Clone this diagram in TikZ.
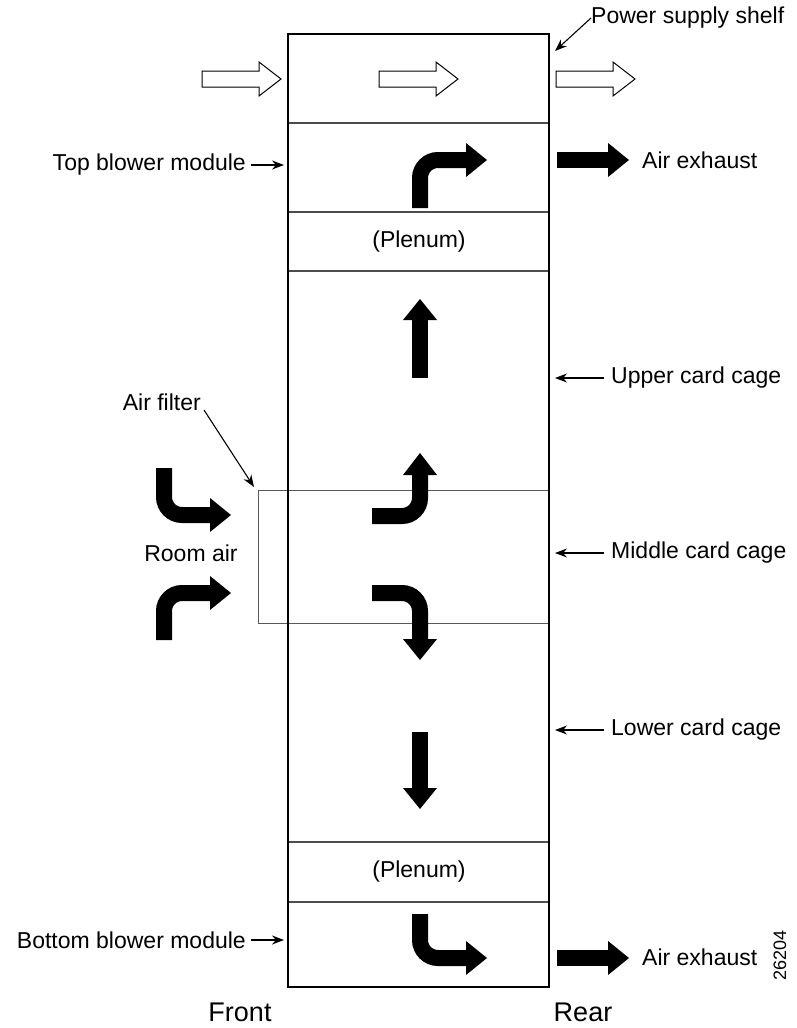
\documentclass[tikz,border=0pt]{standalone}
\usepackage{fontspec}
\setmainfont{Liberation Sans}
\usetikzlibrary{arrows.meta}
\begin{document}
\begin{tikzpicture}[x=1pt,y=-1pt,
  lbl/.style={inner sep=0pt, font=\fontsize{23}{27}\selectfont},
  big/.style={inner sep=0pt, font=\fontsize{27}{31}\selectfont},
  ptr/.style={line width=1.1pt, -{Stealth[length=12pt,width=9pt]}},
  divider/.style={line width=1.1pt, draw=black!70},
  filt/.style={line width=1pt, draw=black!65},
  rack/.style={line width=2pt, draw=black},
  flow/.style={line width=16pt, draw=black, rounded corners=18pt},
  hollow/.style={line width=1pt, draw=black, fill=white, line join=miter}]
\useasboundingbox (0,0) rectangle (796,1028);

% dividers
\draw[divider] (288,123) -- (549,123);
\draw[divider] (288,212) -- (549,212);
\draw[divider] (288,271) -- (549,271);
\draw[divider] (288,842) -- (549,842);
\draw[divider] (288,902) -- (549,902);
% air filter
\draw[filt] (549,490) -- (258,490) -- (258,623) -- (549,623);
% rack
\draw[rack] (288,34) rectangle (549,987);

% hollow arrows
\foreach \x in {202,379,556}{
  \draw[hollow] (\x,71) -- (\x+57,71) -- (\x+57,62) -- (\x+79,79) -- (\x+57,96) -- (\x+57,87) -- (\x,87) -- cycle;
}

% black flow arrows
% top blower
\draw[flow] (420,208) -- (420,160) -- (467,160);
\fill (466,143) -- (487,160) -- (466,177) -- cycle;
% top exhaust
\draw[flow] (557,160) -- (609,160);
\fill (608,143) -- (629,160) -- (608,177) -- cycle;
% upper card cage
\draw[flow] (420,378) -- (420,319);
\fill (403,320) -- (420,299) -- (437,320) -- cycle;
% middle upper
\draw[flow] (372,516) -- (420,516) -- (420,474);
\fill (403,475) -- (420,453) -- (437,475) -- cycle;
% middle lower
\draw[flow] (372,593) -- (420,593) -- (420,640);
\fill (403,639) -- (420,660) -- (437,639) -- cycle;
% lower card cage
\draw[flow] (420,732) -- (420,789);
\fill (403,788) -- (420,809) -- (437,788) -- cycle;
% bottom blower
\draw[flow] (420,914) -- (420,958) -- (467,958);
\fill (466,941) -- (487,958) -- (466,975) -- cycle;
% bottom exhaust
\draw[flow] (557,958) -- (609,958);
\fill (608,941) -- (629,958) -- (608,975) -- cycle;
% room air
\draw[flow] (164,468) -- (164,515) -- (211,515);
\fill (210,498) -- (231,515) -- (210,532) -- cycle;
\draw[flow] (164,640) -- (164,593) -- (211,593);
\fill (210,576) -- (231,593) -- (210,610) -- cycle;

% labels
\node[lbl, anchor=west] (pss) at (591,18) {Power supply shelf};
\coordinate (pssT) at (555,51);
\draw[ptr] (pss.west) -- (pssT);

\node[lbl, anchor=east] (tbm) at (246,165) {Top blower module};
\coordinate (tbmT) at (284,165);
\draw[ptr] ([xshift=5pt]tbm.east) -- (tbmT);

\node[lbl, anchor=west] (ae1) at (642,160) {Air exhaust};
\node[lbl] (pl1) at (419,242) {(Plenum)};

\node[lbl, anchor=west] (ucc) at (611,378) {Upper card cage};
\coordinate (uccT) at (555,378);
\draw[ptr] ([xshift=-7pt]ucc.west) -- (uccT);

\node[lbl, anchor=east] (af) at (201,402) {Air filter};
\coordinate (afT) at (254,487);
\draw[ptr] ([xshift=3pt,yshift=-8pt]af.east) -- (afT);

\node[lbl] (ra) at (191,553) {Room air};

\node[lbl, anchor=west] (mcc) at (611,553) {Middle card cage};
\coordinate (mccT) at (555,553);
\draw[ptr] ([xshift=-7pt]mcc.west) -- (mccT);

\node[lbl, anchor=west] (lcc) at (611,730) {Lower card cage};
\coordinate (lccT) at (555,730);
\draw[ptr] ([xshift=-7pt]lcc.west) -- (lccT);

\node[lbl] (pl2) at (419,872) {(Plenum)};

\node[lbl, anchor=east] (bbm) at (246,940) {Bottom blower module};
\coordinate (bbmT) at (284,940);
\draw[ptr] ([xshift=5pt]bbm.east) -- (bbmT);

\node[lbl, anchor=west] (ae2) at (642,957) {Air exhaust};

\node[big] (fr) at (240,1012) {Front};
\node[big] (re) at (583,1012) {Rear};
\node[inner sep=0pt, rotate=90, font=\fontsize{18}{20}\selectfont] (num) at (780,955) {26204};
\end{tikzpicture}
\end{document}
